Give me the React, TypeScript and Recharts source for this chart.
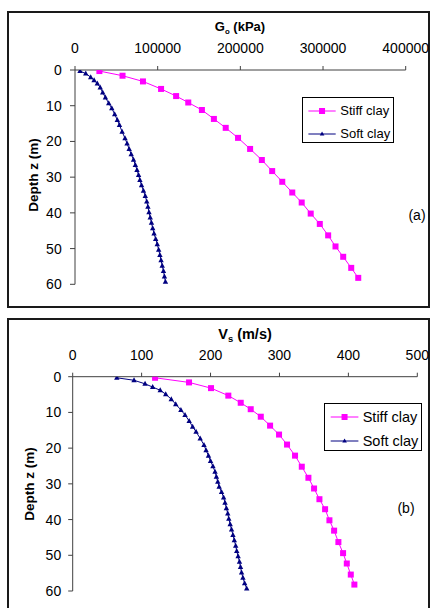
import React from 'react';
import { ScatterChart, Scatter, XAxis, YAxis, Legend } from 'recharts';

// ---------- data ----------
const stiffDepth = [0.3, 1.6, 3.2, 5.3, 7.3, 9.1, 11.2, 13.7, 16.2, 19.0, 22.1, 25.2, 28.3, 31.3, 34.3, 37.1, 40.2, 43.1, 46.3, 49.4, 52.3, 55.4, 58.2];
const stiffG = [29500, 57500, 82200, 104100, 122300, 137000, 153500, 168000, 182300, 197200, 211800, 226000, 238500, 250700, 262800, 274200, 285100, 296100, 306200, 315100, 324400, 334100, 342600];
const stiffVs = [119.5, 168.8, 200.7, 225.8, 243.8, 258.3, 272.9, 286.4, 299.4, 311, 322.6, 332.4, 342, 350.2, 358, 366.2, 372.5, 379.3, 385.5, 392.3, 397.7, 403.5, 408.7];

const softDepth = [0.3, 1.0, 2.0, 2.9, 3.8, 4.9, 6.3, 7.7, 9.3, 10.7, 12.4, 14.0, 15.4, 17.3, 19.1, 20.6, 22.1, 23.6, 25.1, 26.6, 28.0, 29.4, 30.8, 32.3, 33.8, 35.3, 36.8, 38.3, 39.8, 41.3, 42.8, 44.3, 45.8, 47.3, 48.8, 50.3, 51.8, 53.3, 54.8, 56.3, 57.8, 59.3];
const softG = [6100, 13000, 19000, 23100, 27000, 30500, 33500, 36800, 40800, 44500, 48000, 51200, 53800, 57000, 60500, 63000, 65500, 68000, 70800, 73000, 75000, 76900, 78500, 80500, 82800, 85000, 86800, 88200, 89500, 91000, 92500, 94000, 95600, 97600, 99500, 101200, 102700, 104100, 105500, 107000, 108200, 109400];
const softVs = [64, 89, 105, 116, 127, 135, 143, 149.5, 157, 163, 169, 174, 179, 185, 190.5, 193.5, 197, 200, 203.5, 206.5, 208.5, 210.5, 212.5, 216, 219, 221, 223, 225, 226.5, 228.5, 230.5, 232.5, 234.5, 236.5, 238, 240, 242, 243.5, 245, 247, 249.5, 252.5];

const gTicks = [0, 100000, 200000, 300000, 400000];
const vsTicks = [0, 100, 200, 300, 400, 500];
const depthTicks = [0, 10, 20, 30, 40, 50, 60];

const seriesNames = ['Stiff clay', 'Soft clay'];

// ---------- styles ----------
const FONT = '"Liberation Sans", Arial, Helvetica, sans-serif';
const MAGENTA = '#FF00FF';
const NAVY = '#000080';
const AXIS = '#404040';

const zip = (xs: number[], ys: number[]) => xs.map((x, i) => ({ x, y: ys[i] }));

const SquareDot = (p: any) => (
  <rect x={p.cx - 3} y={p.cy - 3} width={6} height={6} fill={MAGENTA} />
);
const TriDot = (p: any) => (
  <path d={`M${p.cx},${p.cy - 3}L${p.cx + 2.7},${p.cy + 2}L${p.cx - 2.7},${p.cy + 2}Z`} fill={NAVY} />
);

type LegendCfg = { rows: number[]; lineX0: number; lineX1: number; textX: number; fontSize: number };

const makeLegend = (cfg: LegendCfg) => (props: any) => {
  const payload = [...(props.payload || [])].sort(
    (a: any, b: any) => seriesNames.indexOf(a.value) - seriesNames.indexOf(b.value)
  );
  return (
    <div
      style={{
        position: 'relative',
        width: '100%',
        height: '100%',
        boxSizing: 'border-box',
        border: '1px solid #000',
        background: '#fff',
        fontFamily: FONT,
      }}
    >
      {payload.map((entry: any, i: number) => {
        const isStiff = entry.value === seriesNames[0];
        const color = isStiff ? MAGENTA : NAVY;
        const cy = cfg.rows[i];
        const mx = (cfg.lineX0 + cfg.lineX1) / 2;
        return (
          <div key={i} style={{ position: 'absolute', left: 0, right: 0, top: cy - 9, height: 18 }}>
            <svg width={cfg.lineX1 + 2} height={18} style={{ position: 'absolute', left: 0, top: 0 }}>
              <line x1={cfg.lineX0} x2={cfg.lineX1} y1={9} y2={9} stroke={color} strokeWidth={1} />
              {isStiff ? (
                <rect x={mx - 3} y={6} width={6} height={6} fill={color} />
              ) : (
                <path d={`M${mx},${6.5}L${mx + 2.3},${10.5}L${mx - 2.3},${10.5}Z`} fill={color} />
              )}
            </svg>
            <span
              style={{
                position: 'absolute',
                left: cfg.textX,
                top: 0,
                lineHeight: '18px',
                fontSize: cfg.fontSize,
                color: '#000',
                whiteSpace: 'nowrap',
              }}
            >
              {entry.value}
            </span>
          </div>
        );
      })}
    </div>
  );
};

const Txt = ({ x, y, size, bold, rotate, children }: any) => (
  <div
    style={{
      position: 'absolute',
      left: x,
      top: y,
      transform: `translate(-50%, -50%)${rotate ? ' rotate(-90deg)' : ''}`,
      fontSize: size,
      fontWeight: bold ? 'bold' : 'normal',
      lineHeight: 1,
      whiteSpace: 'nowrap',
      fontFamily: FONT,
      color: '#000',
    }}
  >
    {children}
  </div>
);

const tickStyle = (size: number) => ({ fontSize: size, fill: '#000', fontFamily: FONT });

export default function App() {
  const stiffA = zip(stiffG, stiffDepth);
  const softA = zip(softG, softDepth);
  const stiffB = zip(stiffVs, stiffDepth);
  const softB = zip(softVs, softDepth);

  return (
    <div style={{ position: 'relative', width: 430, height: 608, overflow: 'hidden', background: '#fff', fontFamily: FONT }}>
      <style>{`body{margin:0;overflow:hidden}`}</style>

      {/* panel frames */}
      <div style={{ position: 'absolute', left: 7, top: 11, width: 423, height: 297, border: '2px solid #1a1a1a', boxSizing: 'border-box' }} />
      <div style={{ position: 'absolute', left: 7, top: 318, width: 423, height: 300, border: '2px solid #1a1a1a', boxSizing: 'border-box' }} />

      {/* chart (a) */}
      <div style={{ position: 'absolute', left: 0, top: 0, width: 430, height: 300 }}>
        <ScatterChart width={430} height={300} margin={{ top: 40, right: 24.3, bottom: 15.7, left: 0 }}>
          <XAxis
            type="number"
            dataKey="x"
            orientation="top"
            height={30}
            domain={[0, 400000]}
            ticks={gTicks}
            interval={0}
            tickSize={4}
            tickMargin={12.7}
            stroke={AXIS}
            tick={tickStyle(14)}
            allowDataOverflow
          />
          <YAxis
            type="number"
            dataKey="y"
            reversed
            width={75}
            domain={[0, 60]}
            ticks={depthTicks}
            interval={0}
            tickSize={5}
            tickMargin={8.3}
            stroke={AXIS}
            tick={tickStyle(14)}
            allowDataOverflow
          />
          <Legend
            layout="vertical"
            align="center"
            verticalAlign="middle"
            wrapperStyle={{ left: 302.3, top: 97.3, width: 92, height: 46 }}
            content={makeLegend({ rows: [12.7, 35.4], lineX0: 5.4, lineX1: 32.7, textX: 37, fontSize: 13 })}
          />
          <Scatter
            name={seriesNames[0]}
            data={stiffA}
            fill={MAGENTA}
            line={{ stroke: MAGENTA, strokeWidth: 1 }}
            lineType="joint"
            shape={SquareDot}
            isAnimationActive={false}
          />
          <Scatter
            name={seriesNames[1]}
            data={softA}
            fill={NAVY}
            line={{ stroke: NAVY, strokeWidth: 1 }}
            lineType="joint"
            shape={TriDot}
            isAnimationActive={false}
          />
        </ScatterChart>
      </div>

      {/* chart (b) */}
      <div style={{ position: 'absolute', left: 0, top: 305, width: 430, height: 300 }}>
        <ScatterChart width={430} height={300} margin={{ top: 41.7, right: 12.7, bottom: 14, left: 0 }}>
          <XAxis
            type="number"
            dataKey="x"
            orientation="top"
            height={30}
            domain={[0, 500]}
            ticks={vsTicks}
            interval={0}
            tickSize={4}
            tickMargin={12.7}
            stroke={AXIS}
            tick={tickStyle(14)}
            allowDataOverflow
          />
          <YAxis
            type="number"
            dataKey="y"
            reversed
            width={72.7}
            domain={[0, 60]}
            ticks={depthTicks}
            interval={0}
            tickSize={4.5}
            tickMargin={7}
            stroke={AXIS}
            tick={tickStyle(14)}
            allowDataOverflow
          />
          <Legend
            layout="vertical"
            align="center"
            verticalAlign="middle"
            wrapperStyle={{ left: 324.3, top: 97.7, width: 98, height: 48 }}
            content={makeLegend({ rows: [13.3, 37.3], lineX0: 5.7, lineX1: 33.4, textX: 37.4, fontSize: 14.5 })}
          />
          <Scatter
            name={seriesNames[0]}
            data={stiffB}
            fill={MAGENTA}
            line={{ stroke: MAGENTA, strokeWidth: 1 }}
            lineType="joint"
            shape={SquareDot}
            isAnimationActive={false}
          />
          <Scatter
            name={seriesNames[1]}
            data={softB}
            fill={NAVY}
            line={{ stroke: NAVY, strokeWidth: 1 }}
            lineType="joint"
            shape={TriDot}
            isAnimationActive={false}
          />
        </ScatterChart>
      </div>

      {/* titles and labels */}
      <Txt x={240} y={26} size={13} bold>
        G<span style={{ fontSize: '0.6em', position: 'relative', top: '0.35em' }}>o</span> (kPa)
      </Txt>
      <Txt x={34.3} y={175} size={13.5} bold rotate>Depth z (m)</Txt>
      <Txt x={417} y={215} size={14}>(a)</Txt>

      <Txt x={245} y={334} size={14.5} bold>
        V<span style={{ fontSize: '0.65em', position: 'relative', top: '0.3em' }}>s</span> (m/s)
      </Txt>
      <Txt x={29.5} y={484} size={13.5} bold rotate>Depth z (m)</Txt>
      <Txt x={406} y={508} size={14}>(b)</Txt>
    </div>
  );
}
